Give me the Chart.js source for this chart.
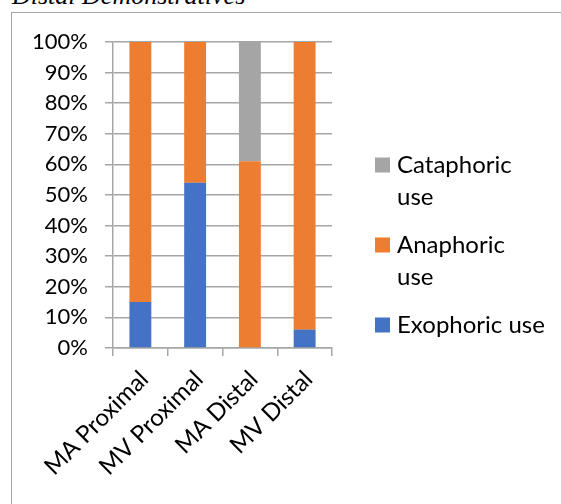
<!DOCTYPE html>
<html>
<head>
<meta charset="utf-8">
<script src="https://cdn.jsdelivr.net/npm/chart.js@4/dist/chart.umd.min.js"></script>
<style>
  html, body { margin: 0; padding: 0; background: #fff; overflow: hidden; }
  #wrap { position: relative; width: 561px; height: 504px; overflow: hidden; }
  #caption {
    position: absolute; left: 12px; top: -17px;
    font: italic 26px/26px "Liberation Serif", "Times New Roman", serif;
    color: #000; white-space: nowrap;
  }
  #frame {
    position: absolute; left: 11px; top: 12px; width: 620px; height: 620px;
    border-left: 1.5px solid #a6a6a6; border-top: 1.5px solid #a6a6a6;
  }
  #chart { position: absolute; left: 0; top: 0; }
</style>
</head>
<body>
<div id="wrap">
  <div id="caption">Distal Demonstratives</div>
  <div id="frame"></div>
  <canvas id="chart" width="561" height="504"></canvas>
</div>
<script>
// Share of each use type per demonstrative group (percent, stacks sum to 100)
const categories = ['MA Proximal', 'MV Proximal', 'MA Distal', 'MV Distal'];
const exophoricUse  = [15, 54, 0, 6];
const anaphoricUse  = [85, 46, 61, 94];
const cataphoricUse = [0, 0, 39, 0];
const seriesNames   = ['Exophoric use', 'Anaphoric use', 'Cataphoric use'];
const seriesColors  = ['#4472C4', '#ED7D31', '#A5A5A5'];
// legend entries whose last word goes onto a second line
const legendWrapped = [false, true, true];
const yTickStep = 10;

const axisFont = { family: 'Lato', size: 22 };
const catFont = { family: 'Lato', size: 24 };
const legendFont = { family: 'Lato', size: 24 };
const lineGray = '#a6a6a6';

// Legend drawn on the right, last series first
const sideLegend = {
  id: 'sideLegend',
  afterDraw(chart, args, opts) {
    const ctx = chart.ctx;
    ctx.save();
    ctx.font = `${legendFont.size}px ${legendFont.family}`;
    ctx.textBaseline = 'middle';
    ctx.textAlign = 'left';
    let y = opts.top;
    const order = chart.data.datasets.map((d, i) => i).reverse();
    for (const i of order) {
      const d = chart.data.datasets[i];
      let lines = [d.label];
      if (legendWrapped[i]) {
        const cut = d.label.lastIndexOf(' ');
        lines = [d.label.slice(0, cut), d.label.slice(cut + 1)];
      }
      const firstMid = y + opts.lineHeight / 2;
      ctx.fillStyle = d.backgroundColor;
      ctx.fillRect(opts.left, firstMid - opts.box / 2, opts.box, opts.box);
      ctx.fillStyle = '#000';
      lines.forEach((ln, k) => {
        ctx.fillText(ln, opts.left + opts.box + opts.gap, firstMid + k * opts.lineHeight);
      });
      y += lines.length * opts.lineHeight + opts.itemGap;
    }
    ctx.restore();
  }
};

new Chart(document.getElementById('chart'), {
  type: 'bar',
  data: {
    labels: categories,
    datasets: [
      { label: seriesNames[0], data: exophoricUse,  backgroundColor: seriesColors[0] },
      { label: seriesNames[1], data: anaphoricUse,  backgroundColor: seriesColors[1] },
      { label: seriesNames[2], data: cataphoricUse, backgroundColor: seriesColors[2] }
    ]
  },
  options: {
    responsive: false,
    animation: false,
    devicePixelRatio: 1,
    layout: { padding: { left: 0, top: 42, right: 229, bottom: 0 } },
    datasets: { bar: { barPercentage: 0.4, categoryPercentage: 1.0 } },
    plugins: {
      legend: { display: false },
      tooltip: { enabled: false },
      sideLegend: {
        left: 375, top: 149, box: 15, gap: 7,
        lineHeight: 32, itemGap: 16
      }
    },
    scales: {
      x: {
        stacked: true,
        ticks: {
          minRotation: 45, maxRotation: 45, autoSkip: false,
          padding: 9, labelOffset: 4, color: '#000', font: catFont
        },
        grid: {
          drawOnChartArea: false, drawTicks: true, tickLength: 8,
          color: lineGray, lineWidth: 1.5, offset: true
        },
        border: { display: true, color: lineGray, width: 1.5 },
        afterFit(scale) { scale.height = 504 - 348; }
      },
      y: {
        stacked: true, min: 0, max: 100,
        ticks: {
          stepSize: yTickStep, padding: 17, color: '#000', font: axisFont,
          callback: v => v + '%'
        },
        grid: { color: lineGray, lineWidth: 1.5, tickLength: 8, drawTicks: true },
        border: { display: true, color: lineGray, width: 1.5 },
        afterFit(scale) { scale.width = 113; }
      }
    }
  },
  plugins: [sideLegend]
});
</script>
</body>
</html>
